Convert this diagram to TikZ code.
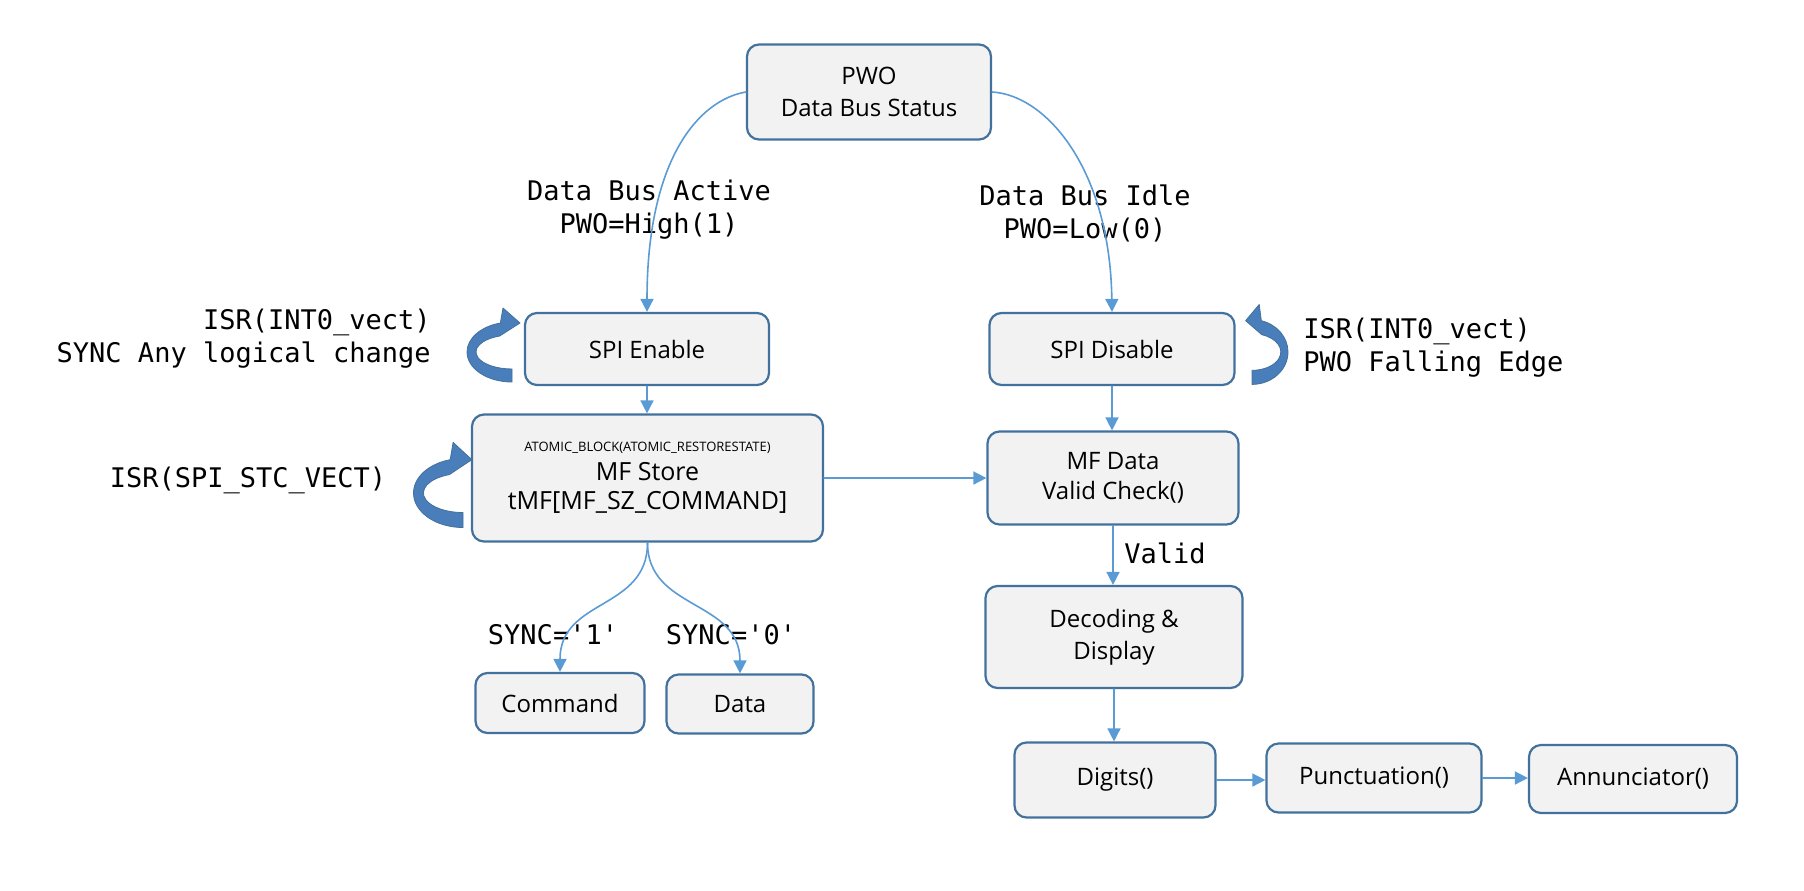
\documentclass[tikz,border=0pt]{standalone}
\usepackage{fontspec}
\setmainfont{Open Sans}
\newfontfamily\codefont{DejaVu Sans Mono}
\usetikzlibrary{arrows.meta}
\definecolor{boxline}{HTML}{41719C}
\definecolor{boxfill}{HTML}{F2F2F2}
\definecolor{linkblue}{HTML}{5B9BD5}
\definecolor{loopblue}{HTML}{4A7EBB}
\tikzset{
  isrloop/.pic={
    \filldraw[fill=loopblue, draw=boxline, line width=0.4pt]
      (0,30) arc[start angle=90, end angle=255, x radius=45, y radius=30]
      -- (-9,-44) -- (8,-29) -- (-12.3,-16)
      arc[start angle=250, end angle=90, x radius=36, y radius=17] -- cycle;
  }
}
\begin{document}
\begin{tikzpicture}[x=0.5pt, y=-0.5pt, line cap=round, line join=round,
  >={Triangle[length=6.5pt,width=6.5pt]},
  blk/.style={draw=boxline, fill=boxfill, line width=1.1pt, rounded corners=6pt, align=center, inner sep=2pt, font=\fontsize{12}{16}\selectfont},
  link/.style={->, draw=linkblue, line width=0.8pt},
  code/.style={inner sep=0pt, font=\codefont\fontsize{13.5}{16.5}\selectfont}]
\useasboundingbox (0,0) rectangle (1804,890);
\node[blk, minimum width=122pt, minimum height=47.5pt] (pwo) at (869,92) {PWO\\Data Bus Status};
\node[blk, minimum width=122pt, minimum height=36pt] (spien) at (647,349) {SPI Enable};
\node[blk, minimum width=175.5pt, minimum height=63.5pt, font=\fontsize{12.5}{14.5}\selectfont] (store) at (647.5,478) {{\fontsize{6.5}{8}\selectfont ATOMIC\_BLOCK(ATOMIC\_RESTORESTATE)}\\MF Store\\tMF[MF\_SZ\_COMMAND]};
\node[blk, minimum width=122.5pt, minimum height=36pt] (spidis) at (1112,349) {SPI Disable};
\node[blk, minimum width=125.5pt, minimum height=46.5pt, font=\fontsize{12}{15}\selectfont] (mfdata) at (1113,478) {MF Data\\Valid Check()};
\node[blk, minimum width=128.5pt, minimum height=51pt] (decode) at (1114,637) {Decoding \&\\Display};
\node[blk, minimum width=84.5pt, minimum height=30pt] (cmd) at (560,703) {Command};
\node[blk, minimum width=73.5pt, minimum height=29.5pt] (data) at (740,704) {Data};
\node[blk, minimum width=100.5pt, minimum height=37.5pt] (digits) at (1115,780) {Digits()};
\node[blk, minimum width=107.5pt, minimum height=34.5pt] (punct) at (1374,778) {Punctuation()};
\node[blk, minimum width=104pt, minimum height=34pt] (annun) at (1633,779) {Annunciator()};

\node[code, align=center] (active) at (649,210) {Data Bus Active\\PWO=High(1)};
\node[code, align=center] (idle) at (1085,213) {Data Bus Idle\\PWO=Low(0)};
\node[code, align=right, anchor=east] (isrsync) at (431,339) {ISR(INT0\_vect)\\SYNC Any logical change};
\node[code] (isrspi) at (248,480) {ISR(SPI\_STC\_VECT)};
\node[code, align=left, anchor=west] (isrpwo) at (1303,348) {ISR(INT0\_vect)\\PWO Falling Edge};
\node[code, anchor=west] (valid) at (1124,553) {Valid};
\node[code] (sync1) at (553,635) {SYNC='1'};
\node[code] (sync0) at (731,635) {SYNC='0'};

\draw[link] (pwo.west) .. controls +(-47,8) and +(0,-153) .. (spien.north);
\draw[link] (pwo.east) .. controls +(54,3) and +(-2,-143) .. (spidis.north);
\draw[link] (spien.south) -- (spien.south |- store.north);
\draw[link] (spidis.south) -- (spidis.south |- mfdata.north);
\draw[link] (store.east) -- (mfdata.west);
\draw[link] (mfdata.south) -- (mfdata.south |- decode.north);
\draw[link] (decode.south) -- (decode.south |- digits.north);
\draw[link] (digits.east) -- (punct.west |- digits.east);
\draw[link] (punct.east) -- (annun.west |- punct.east);
\draw[link] (store.south) .. controls +(0,68) and +(0,-74) .. (cmd.north);
\draw[link] (store.south) .. controls +(0,68) and +(0,-74) .. (data.north);

\pic at (512,352) {isrloop};
\pic[xscale=1.1, yscale=1.15] at (463,493) {isrloop};
\pic[xscale=-0.8, yscale=1.08] at (1252,352) {isrloop};
\end{tikzpicture}
\end{document}
